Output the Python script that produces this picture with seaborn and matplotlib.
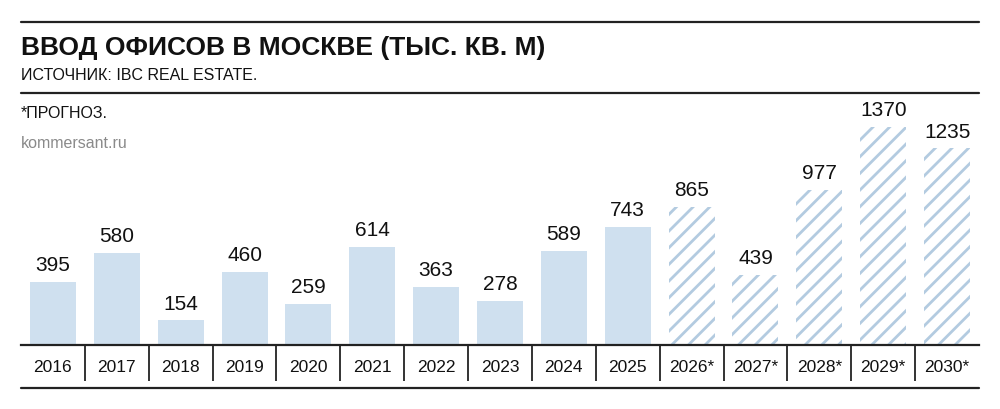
import matplotlib
matplotlib.use("Agg")
import matplotlib.pyplot as plt
import seaborn as sns
import pandas as pd
from matplotlib.lines import Line2D

years = ["2016", "2017", "2018", "2019", "2020", "2021", "2022", "2023",
         "2024", "2025", "2026*", "2027*", "2028*", "2029*", "2030*"]
values = [395, 580, 154, 460, 259, 614, 363, 278, 589, 743, 865, 439, 977, 1370, 1235]
forecast = [False] * 10 + [True] * 5

title = "ВВОД ОФИСОВ В МОСКВЕ (ТЫС. КВ. М)"
subtitle = "ИСТОЧНИК: IBC REAL ESTATE."
note = "*ПРОГНОЗ."
source = "kommersant.ru"

sns.set_theme(style="white")
plt.rcParams["font.family"] = ["Liberation Sans", "DejaVu Sans"]
plt.rcParams["hatch.linewidth"] = 2.0

W, H = 1000, 409
fig = plt.figure(figsize=(10, 4.09), dpi=100)
fig.patch.set_facecolor("white")

x0, x1 = 21, 979
base_y, top_y = 345, 100
ax = fig.add_axes([x0 / W, 1 - base_y / H, (x1 - x0) / W, (base_y - top_y) / H])

df = pd.DataFrame({"year": years, "value": values})
sns.barplot(data=df, x="year", y="value", color="#cfe0ef", saturation=1,
            width=0.72, ax=ax, linewidth=0)

bar_color = "#cfe0ef"
hatch_color = "#b3cbe0"
for p, f in zip(ax.patches, forecast):
    p.set_linewidth(0)
    if f:
        p.set_facecolor("white")
        p.set_edgecolor(hatch_color)
        p.set_hatch("//")
    else:
        p.set_facecolor(bar_color)
        p.set_edgecolor(bar_color)

ax.bar_label(ax.containers[0], labels=[str(v) for v in values], padding=5,
             fontsize=15, color="#111111")

ax.set_xlim(-0.5, len(years) - 0.5)
ax.set_ylim(0, (base_y - top_y) / (218 / 1370))
ax.set_xlabel("")
ax.set_ylabel("")
ax.set_yticks([])
for s in ["top", "right", "left"]:
    ax.spines[s].set_visible(False)
ax.spines["bottom"].set_color("#222222")
ax.spines["bottom"].set_linewidth(1.6)
ax.tick_params(axis="x", length=0, pad=11, labelsize=12.5, colors="#111111")

# dividers between year cells
div_len = (381 - base_y) / (base_y - top_y)
ax.vlines([i + 0.5 for i in range(len(years) - 1)], 0, -div_len,
          transform=ax.get_xaxis_transform(), colors="#333333",
          linewidth=1.4, clip_on=False)

# horizontal rules
for y in [21.5, 92.5, 388]:
    fig.add_artist(Line2D([x0 / W, x1 / W], [1 - y / H, 1 - y / H],
                          color="#222222", linewidth=1.6))

fig.text(x0 / W, 1 - 55 / H, title, fontsize=19, fontweight="bold",
         color="#111111", va="baseline", ha="left")
fig.text(x0 / W, 1 - 80 / H, subtitle, fontsize=11.5, color="#111111",
         va="baseline", ha="left")
fig.text(x0 / W, 1 - 118 / H, note, fontsize=11.5, color="#111111",
         va="baseline", ha="left")
fig.text(x0 / W, 1 - 148 / H, source, fontsize=11.5, color="#8a8a8a",
         va="baseline", ha="left")

fig.savefig("out.png", dpi=100, facecolor="white")
